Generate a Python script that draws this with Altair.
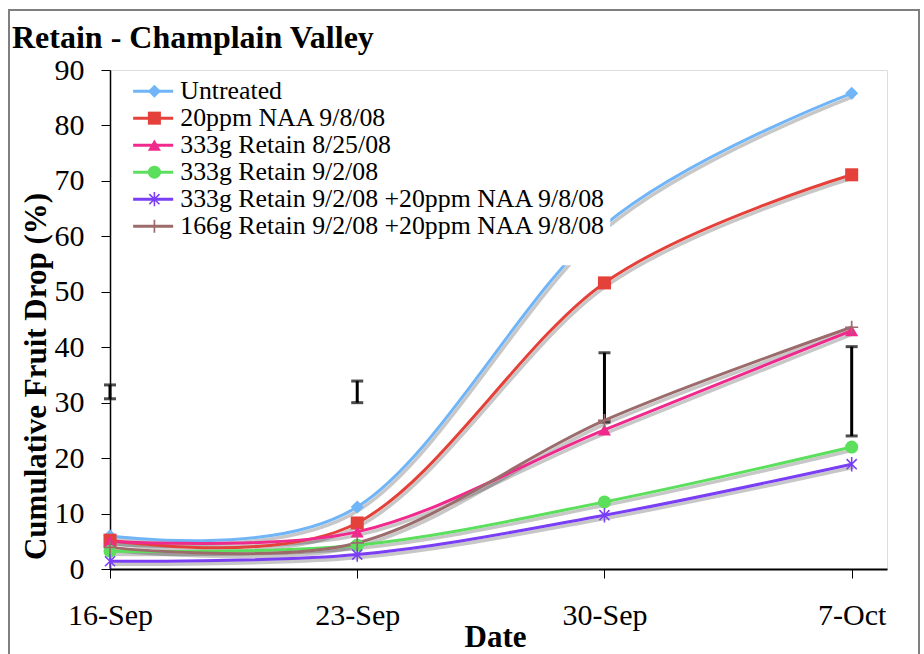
import altair as alt
import pandas as pd

# ---------------- data ----------------
dates = ["2008-09-16", "2008-09-23", "2008-09-30", "2008-10-07"]
tick_labels = ["16-Sep", "23-Sep", "30-Sep", "7-Oct"]
series_names = [
    "Untreated",
    "20ppm NAA 9/8/08",
    "333g Retain 8/25/08",
    "333g Retain 9/2/08",
    "333g Retain 9/2/08 +20ppm NAA 9/8/08",
    "166g Retain 9/2/08 +20ppm NAA 9/8/08",
]
untreated = [6.0, 11.2, 62.0, 85.8]
naa_20ppm = [5.2, 8.3, 51.6, 71.1]
retain_333_0825 = [5.0, 6.7, 25.1, 43.0]
retain_333_0902 = [3.2, 4.3, 12.1, 22.0]
retain_333_0902_naa = [1.4, 2.6, 9.7, 18.9]
retain_166_0902_naa = [3.9, 4.7, 26.8, 43.6]
err_low = [30.7, 30.0, 26.5, 24.0]
err_high = [33.2, 33.9, 39.0, 40.1]

colors = ["#70B5F7", "#E5413B", "#F02A8C", "#5CDF5C", "#7A3EF4", "#9C6B6B"]
asterisk = ("M-0.12,-1.1L0.12,-1.1L0.12,1.1L-0.12,1.1Z"
            "M-0.69,-0.86L0.86,0.69L0.69,0.86L-0.86,-0.69Z"
            "M0.86,-0.69L-0.69,0.86L-0.86,0.69L0.69,-0.86Z")
plus = ("M-0.13,-1L0.13,-1L0.13,1L-0.13,1Z"
        "M-1,-0.13L1,-0.13L1,0.13L-1,0.13Z")
shapes = ["diamond", "square", "triangle-up", "circle", asterisk, plus]

all_series = [untreated, naa_20ppm, retain_333_0825, retain_333_0902,
              retain_333_0902_naa, retain_166_0902_naa]
rows = []
for name, vals in zip(series_names, all_series):
    for d, v in zip(dates, vals):
        rows.append({"date": d, "series": name, "treatment": name, "value": v})
df = pd.DataFrame(rows)
err_df = pd.DataFrame({"date": dates, "low": err_low, "high": err_high})
cap_df = pd.DataFrame({"date": dates + dates, "value": err_low + err_high})

# ---------------- styling ----------------
serif = "Liberation Serif"


def dt(s):
    y, m, d = (int(p) for p in s.split("-"))
    return alt.DateTime(year=y, month=m, date=d, utc=True)


label_expr = " : ".join(
    f"utcFormat(datum.value, '%Y-%m-%d') == '{d}' ? '{t}'"
    for d, t in zip(dates, tick_labels)
) + " : ''"

x_enc = alt.X(
    "date:T",
    title="Date",
    scale=alt.Scale(type="utc", domain=[dt("2008-09-16"), dt("2008-10-08")]),
    axis=alt.Axis(
        values=[dt(d) for d in dates],
        labelExpr=label_expr,
        labelFlush=False,
        labelOverlap=False,
        grid=False,
        domainColor="black",
        domainWidth=2,
        tickColor="black",
        tickSize=9,
        tickWidth=1,
        labelFont=serif,
        labelFontSize=30,
        labelColor="black",
        labelBaseline="alphabetic",
        labelPadding=46,
        titleFont=serif,
        titleFontSize=31,
        titleFontWeight="bold",
        titleColor="black",
        titleX=385,
        titleY=77,
        titleAlign="center",
        titleBaseline="alphabetic",
    ),
)

y_scale = alt.Scale(domain=[0, 90], nice=False)
y_axis = alt.Axis(
    values=list(range(0, 91, 10)),
    title="Cumulative Fruit Drop (%)",
    grid=False,
    domainColor="black",
    domainWidth=1.5,
    tickColor="black",
    tickSize=9,
    tickWidth=1,
    labelFont=serif,
    labelFontSize=30,
    labelColor="black",
    labelPadding=17,
    titleFont=serif,
    titleFontSize=31,
    titleFontWeight="bold",
    titleColor="black",
    titleAngle=270,
    titleX=-65,
    titleY=306,
    titleAlign="center",
    titleBaseline="alphabetic",
)


def y_enc(field):
    return alt.Y(f"{field}:Q", scale=y_scale, axis=y_axis)


legend_lines = alt.Legend(
    orient="none", legendX=26.25, legendY=4.25, zindex=1,
    title=" ", titleOrient="bottom", titleFontSize=20, titlePadding=2,
    symbolType="M-3,0L3,0", symbolSize=178, symbolStrokeWidth=3, symbolOffset=0,
    labelFont=serif, labelFontSize=25.8, labelColor="black", labelOffset=14.25,
    labelLimit=1000, fillColor="white", padding=4, rowPadding=0,
)
legend_marks = alt.Legend(
    orient="none", legendX=27.5, legendY=4.25, zindex=2, title=None,
    symbolSize=170, symbolStrokeWidth=0, symbolOpacity=1, symbolOffset=0,
    labelFont=serif, labelFontSize=25.8, labelExpr="' '", labelOffset=5.5,
    labelLimit=1000, padding=4, rowPadding=0,
)

stroke_scale = alt.Scale(domain=series_names, range=colors)
fill_scale = alt.Scale(range=colors)
shape_scale = alt.Scale(range=shapes)

base = alt.Chart(df)

shadow_lines = base.mark_line(
    interpolate="cardinal", tension=0, strokeWidth=3.5, color="black",
    opacity=0.22, xOffset=2, yOffset=3,
).encode(x=x_enc, y=y_enc("value"), detail="series:N")

err_rule = alt.Chart(err_df).mark_rule(color="black", strokeWidth=3).encode(
    x=x_enc, y=y_enc("low"), y2="high:Q"
)
err_caps = alt.Chart(cap_df).mark_tick(
    orient="horizontal", color="black", size=12, thickness=3
).encode(x=x_enc, y=y_enc("value"))

lines = base.mark_line(interpolate="cardinal", tension=0, strokeWidth=3).encode(
    x=x_enc, y=y_enc("value"),
    stroke=alt.Stroke("series:N", scale=stroke_scale, legend=legend_lines),
)

points = base.mark_point(filled=True, size=170, opacity=1).encode(
    x=x_enc, y=y_enc("value"),
    fill=alt.Fill("treatment:N", sort=None, scale=fill_scale, legend=legend_marks),
    shape=alt.Shape("treatment:N", sort=None, scale=shape_scale, legend=legend_marks),
)

frame = alt.Chart(pd.DataFrame({"k": [0]})).mark_rect(
    filled=False, color="#7f7f7f", strokeWidth=2
).encode(x=alt.value(-101), x2=alt.value(809), y=alt.value(-60), y2=alt.value(600))

chart = alt.layer(
    frame, shadow_lines, err_rule, err_caps, lines, points
).properties(
    width=777,
    height=499,
    autosize=alt.AutoSizeParams(type="none"),
    padding={"left": 110, "top": 70, "right": 37, "bottom": 85},
    title=alt.TitleParams(
        text="Retain - Champlain Valley", anchor="start", frame="group",
        font=serif, fontSize=32, fontWeight="bold", color="black",
        dx=-98, dy=71, offset=0, baseline="alphabetic",
    ),
).configure_view(
    stroke="#a6a6a6", strokeWidth=2
).configure(background="white")

chart.save("out.html", embed_options={"renderer": "svg", "actions": False})
